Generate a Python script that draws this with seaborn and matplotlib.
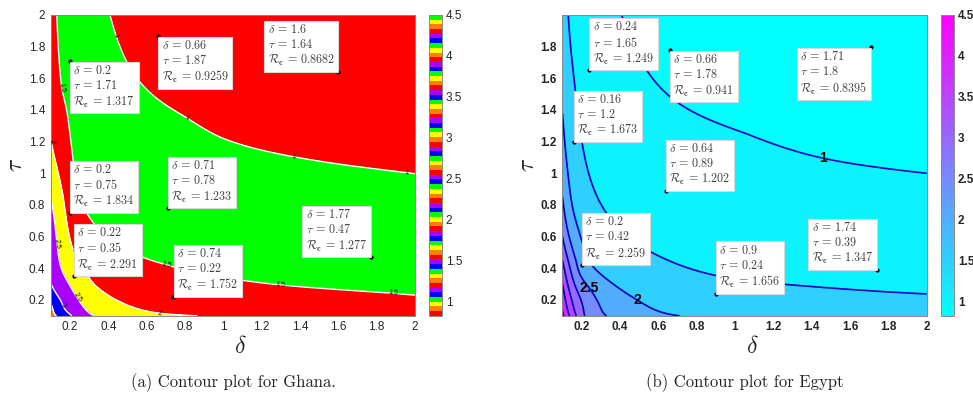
import numpy as np
import matplotlib
matplotlib.use("Agg")
import matplotlib.pyplot as plt
import seaborn as sns
from matplotlib.colors import ListedColormap, Normalize
from matplotlib.cm import ScalarMappable

sns.set_theme(style="white")
plt.rcParams["font.family"] = ["Liberation Sans", "DejaVu Sans"]
plt.rcParams["mathtext.fontset"] = "cm"

# ---------------- data ----------------
# Ghana: points (delta, tau, Rc)
gh_level_d = [0.409, 0.44, 0.81, 0.98, 1.365, 1.957,
              0.131, 0.157, 0.183, 0.235, 0.339, 0.53, 0.705, 1.296, 1.887, 2.0,
              0.10, 0.165, 0.217, 0.322, 0.478, 0.67,
              0.10, 0.148, 0.235, 0.31,
              0.10, 0.15, 0.20,
              0.10, 0.12,
              0.10, 2.0, 2.0, 0.10]
gh_level_t = [2.0, 1.87, 1.35, 1.23, 1.105, 1.004,
              2.0, 1.54, 1.40, 0.915, 0.663, 0.495, 0.421, 0.295, 0.242, 0.23,
              1.22, 0.85, 0.516, 0.305, 0.179, 0.116,
              0.85, 0.43, 0.22, 0.11,
              0.31, 0.20, 0.11,
              0.18, 0.11,
              2.0, 2.0, 0.1, 0.1]
gh_level_r = [1.0, 1.0, 1.0, 1.0, 1.0, 1.0,
              1.5, 1.5, 1.5, 1.5, 1.5, 1.5, 1.5, 1.5, 1.5, 1.5,
              2.0, 2.0, 2.0, 2.0, 2.0, 2.0,
              2.5, 2.5, 2.5, 2.5,
              3.0, 3.0, 3.0,
              3.5, 3.5,
              1.7, 0.82, 1.85, 4.0]
# Ghana data tips
gh_tip_d = [0.2, 0.66, 1.6, 0.2, 0.71, 0.22, 0.74, 1.77]
gh_tip_t = [1.71, 1.87, 1.64, 0.75, 0.78, 0.35, 0.22, 0.47]
gh_tip_r = [1.317, 0.9259, 0.8682, 1.834, 1.233, 2.291, 1.752, 1.277]
gh_tip_txt_d = ["0.2", "0.66", "1.6", "0.2", "0.71", "0.22", "0.74", "1.77"]
gh_tip_txt_t = ["1.71", "1.87", "1.64", "0.75", "0.78", "0.35", "0.22", "0.47"]
gh_tip_txt_r = ["1.317", "0.9259", "0.8682", "1.834", "1.233", "2.291", "1.752", "1.277"]
gh_tip_side = ["lr", "lr", "ul", "ur", "ur", "ur", "ur", "ul"]

# Egypt: points
eg_level_d = [0.409, 0.661, 1.06, 1.46, 2.0,
              0.13, 0.16, 0.20, 0.33, 0.574, 0.887, 1.41, 2.0,
              0.10, 0.15, 0.26, 0.49, 0.71,
              0.10, 0.17, 0.24, 0.33,
              0.10, 0.216,
              0.10, 0.172,
              0.10, 0.137,
              0.10, 2.0, 2.0, 0.10]
eg_level_t = [2.0, 1.484, 1.25, 1.095, 1.0,
              2.0, 1.6, 1.21, 0.747, 0.495, 0.358, 0.284, 0.238,
              1.38, 0.8, 0.41, 0.2, 0.1,
              0.85, 0.45, 0.275, 0.1,
              0.6, 0.1,
              0.45, 0.1,
              0.3, 0.1,
              2.0, 2.0, 0.1, 0.1]
eg_level_r = [1.0, 1.0, 1.0, 1.0, 1.0,
              1.5, 1.5, 1.5, 1.5, 1.5, 1.5, 1.5, 1.5,
              2.0, 2.0, 2.0, 2.0, 2.0,
              2.5, 2.5, 2.5, 2.5,
              3.0, 3.0,
              3.5, 3.5,
              4.0, 4.0,
              1.75, 0.82, 1.85, 4.6]
eg_tip_d = [0.24, 0.66, 1.71, 0.16, 0.64, 0.2, 0.9, 1.74]
eg_tip_t = [1.65, 1.78, 1.8, 1.2, 0.89, 0.42, 0.24, 0.39]
eg_tip_r = [1.249, 0.941, 0.8395, 1.673, 1.202, 2.259, 1.656, 1.347]
eg_tip_txt_d = ["0.24", "0.66", "1.71", "0.16", "0.64", "0.2", "0.9", "1.74"]
eg_tip_txt_t = ["1.65", "1.78", "1.8", "1.2", "0.89", "0.42", "0.24", "0.39"]
eg_tip_txt_r = ["1.249", "0.941", "0.8395", "1.673", "1.202", "2.259", "1.656", "1.347"]
eg_tip_side = ["ur", "lr", "ll", "ur", "ur", "ur", "ur", "ul"]

levels = [1.0, 1.5, 2.0, 2.5, 3.0, 3.5, 4.0, 4.5]
ticks = [0.2, 0.4, 0.6, 0.8, 1.0, 1.2, 1.4, 1.6, 1.8, 2.0]
tick_labels = ["0.2", "0.4", "0.6", "0.8", "1", "1.2", "1.4", "1.6", "1.8", "2"]
cbar_ticks = [1, 1.5, 2, 2.5, 3, 3.5, 4, 4.5]
cmin, cmax = 0.82, 4.5


# ---------------- smooth surface through the read values ----------------
def smooth_surface(d, t, r, lam=2e-3):
    """thin-plate smoothing in (log delta, log tau) of log Rc"""
    P = np.column_stack([np.log(d), np.log(t)])
    z = np.log(np.asarray(r, float))
    n = len(z)

    def kern(A, B):
        rr = np.sqrt(((A[:, None, :] - B[None, :, :]) ** 2).sum(-1))
        with np.errstate(divide="ignore", invalid="ignore"):
            k = np.where(rr > 0, rr ** 2 * np.log(rr), 0.0)
        return k

    K = kern(P, P) + lam * np.eye(n)
    Q = np.column_stack([np.ones(n), P])
    M = np.block([[K, Q], [Q.T, np.zeros((3, 3))]])
    sol = np.linalg.solve(M, np.concatenate([z, np.zeros(3)]))
    w, a = sol[:n], sol[n:]

    def f(D, T):
        G = np.column_stack([np.log(D).ravel(), np.log(T).ravel()])
        val = kern(G, P) @ w + a[0] + G @ a[1:]
        return np.exp(val).reshape(D.shape)
    return f


gd = np.linspace(0.1, 2.0, 300)
gt = np.linspace(0.1, 2.0, 300)
D, T = np.meshgrid(gd, gt)

f_gh = smooth_surface(gh_level_d + gh_tip_d, gh_level_t + gh_tip_t, gh_level_r + gh_tip_r)
f_eg = smooth_surface(eg_level_d + eg_tip_d, eg_level_t + eg_tip_t, eg_level_r + eg_tip_r)
Z_gh = f_gh(D, T)
Z_eg = f_eg(D, T)

fmt = lambda v: f"{v:g}"

# ---------------- figure ----------------
fig = plt.figure(figsize=(9.73, 3.99), dpi=100)
ax1 = fig.add_axes([0.0522, 0.2085, 0.3743, 0.754])
cax1 = fig.add_axes([0.4412, 0.2085, 0.0128, 0.754])
ax2 = fig.add_axes([0.5781, 0.2085, 0.3743, 0.754])
cax2 = fig.add_axes([0.9671, 0.2085, 0.0130, 0.754])

# Ghana: MATLAB-prism style bands
prism6 = ["#ff0000", "#ff8000", "#ffff00", "#00ff00", "#0000ff", "#aa00ff"]
prism64 = ListedColormap([prism6[i % 6] for i in range(64)])
band_colors = ["#ff0000", "#00ff00", "#ff0000", "#ffff00", "#aa00ff",
               "#0000ff", "#ff8000", "#ff0000", "#ffff00"]
ax1.contourf(D, T, Z_gh, levels=[0] + levels + [100], colors=band_colors)
cs1 = ax1.contour(D, T, Z_gh, levels=levels, colors="white", linewidths=1.0)
ax1.clabel(cs1, fontsize=5, colors="black", inline=False, fmt=fmt,
           manual=[(0.44, 1.87), (0.81, 1.35), (1.365, 1.105), (1.957, 1.004),
                   (0.157, 1.54), (0.705, 0.421), (1.296, 0.295), (1.887, 0.242),
                   (0.1, 1.2), (0.217, 0.516), (0.67, 0.11),
                   (0.25, 0.225), (0.1, 0.55), (0.18, 0.18)])

# Egypt: cool colormap bands (each band coloured by its lower level)
cool = plt.get_cmap("cool")
norm = Normalize(cmin, cmax)
eg_band = [cool(norm(v)) for v in [cmin] + levels]
ax2.contourf(D, T, Z_eg, levels=[0] + levels + [100], colors=eg_band)
cs2 = ax2.contour(D, T, Z_eg, levels=levels, colors="#0000c8", linewidths=1.2)
lab2 = ax2.clabel(cs2, fontsize=10, colors="black", inline=False, fmt=fmt,
                  manual=[(1.46, 1.095), (0.49, 0.2), (0.24, 0.275)])
for t in lab2:
    t.set_fontweight("bold")
    t.set_rotation(0)


# data tips
def add_tips(ax, dd, tt, sd, st, sr, sides):
    sns.scatterplot(x=dd, y=tt, ax=ax, color="black", s=7, edgecolor="black",
                    linewidth=0.3, zorder=6, legend=False)
    for d, t, a, b, c, side in zip(dd, tt, sd, st, sr, sides):
        txt = (r"$\delta\,=\,%s$" "\n" r"$\tau\,=\,%s$" "\n"
               r"$\mathcal{R}_{\mathbf{c}}\,=\,%s$") % (a, b, c)
        ha = "left" if side[1] == "r" else "right"
        va = "bottom" if side[0] == "u" else "top"
        ox = 2.5 if ha == "left" else -2.5
        oy = 2.5 if va == "bottom" else -2.5
        ax.annotate(txt, xy=(d, t), xytext=(ox, oy), textcoords="offset points",
                    ha=ha, va=va, multialignment="left", fontsize=8.7,
                    color="#404040", linespacing=1.2, zorder=7,
                    bbox=dict(boxstyle="square,pad=0.28", fc="white", ec="#d8d8d8", lw=0.8))


add_tips(ax1, gh_tip_d, gh_tip_t, gh_tip_txt_d, gh_tip_txt_t, gh_tip_txt_r, gh_tip_side)
add_tips(ax2, eg_tip_d, eg_tip_t, eg_tip_txt_d, eg_tip_txt_t, eg_tip_txt_r, eg_tip_side)

for ax, bold in ((ax1, False), (ax2, True)):
    ax.set_xlim(0.1, 2.0)
    ax.set_ylim(0.1, 2.0)
    ax.set_xticks(ticks)
    ax.set_xticklabels(tick_labels)
    ax.tick_params(direction="in", top=True, right=True, length=3, width=0.6,
                   color="#666666", labelsize=8.5, labelcolor="#262626", pad=4)
    for s in ax.spines.values():
        s.set_color("#888888")
        s.set_linewidth(0.7)
    ax.text(0.52, -0.105, r"$\delta$", transform=ax.transAxes, ha="center", va="center",
            fontsize=17, color="#262626")
    ax.text(-0.095, 0.5, r"$\tau$", transform=ax.transAxes, ha="center", va="center",
            fontsize=17, color="#262626", rotation=90)

ax1.set_yticks(ticks)
ax1.set_yticklabels(tick_labels)
ax2.set_yticks(ticks[:-1])
ax2.set_yticklabels(tick_labels[:-1])
for lab in ax2.get_xticklabels() + ax2.get_yticklabels():
    lab.set_fontweight("bold")

for cax, cmap, bold in ((cax1, prism64, False), (cax2, cool, True)):
    sm = ScalarMappable(norm=Normalize(cmin, cmax), cmap=cmap)
    cb = fig.colorbar(sm, cax=cax, ticks=cbar_ticks)
    cb.ax.set_yticklabels(["1", "1.5", "2", "2.5", "3", "3.5", "4", "4.5"])
    cb.ax.tick_params(direction="in", length=3, width=0.6, color="#666666",
                      labelsize=8.5, labelcolor="#262626", pad=3)
    cb.outline.set_edgecolor("#888888")
    cb.outline.set_linewidth(0.7)
    if bold:
        for lab in cb.ax.get_yticklabels():
            lab.set_fontweight("bold")

fig.text(233 / 973, 1 - 383 / 399, "(a) Contour plot for Ghana.", family="cmr10",
         fontsize=12, ha="center", va="center", color="#222222")
fig.text(745 / 973, 1 - 383 / 399, "(b) Contour plot for Egypt", family="cmr10",
         fontsize=12, ha="center", va="center", color="#222222")

fig.savefig("out.png", dpi=100)
